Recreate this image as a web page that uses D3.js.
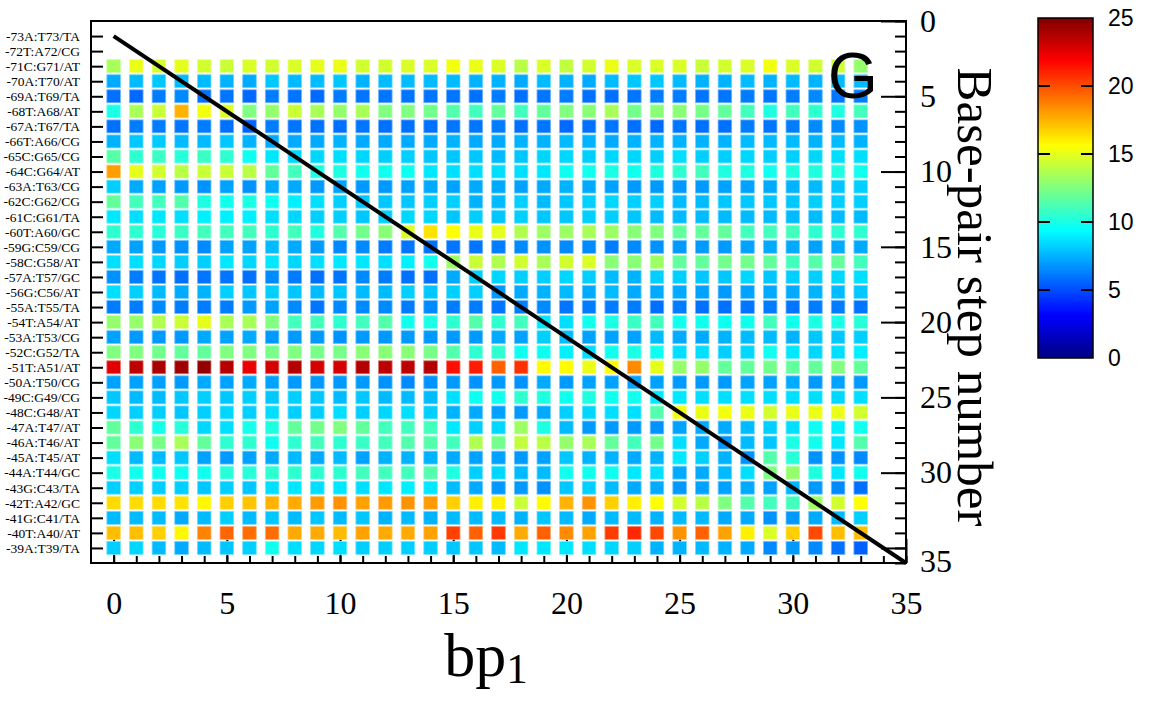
<!DOCTYPE html>
<html>
<head>
<meta charset="utf-8">
<script src="https://cdn.jsdelivr.net/npm/d3@7"></script>
<style>body{margin:0;background:#fff}</style>
</head>
<body>
<script>
// row names, base-pair step 1 .. 35 from top to bottom
const rowLabels = ['-73A:T73/TA','-72T:A72/CG','-71C:G71/AT','-70A:T70/AT','-69A:T69/TA','-68T:A68/AT','-67A:T67/TA',
  '-66T:A66/CG','-65C:G65/CG','-64C:G64/AT','-63A:T63/CG','-62C:G62/CG','-61C:G61/TA','-60T:A60/GC','-59G:C59/CG',
  '-58C:G58/AT','-57A:T57/GC','-56G:C56/AT','-55A:T55/TA','-54T:A54/AT','-53A:T53/CG','-52C:G52/TA','-51T:A51/AT',
  '-50A:T50/CG','-49C:G49/CG','-48C:G48/AT','-47A:T47/AT','-46A:T46/AT','-45A:T45/AT','-44A:T44/GC','-43G:C43/TA',
  '-42T:A42/GC','-41G:C41/TA','-40T:A40/AT','-39A:T39/TA'];

// bp1 columns 0..33, rows start at step 3 (-71) and end at step 35 (-39)
const bpColumns = d3.range(0, 34);
const firstStep = 3;
const cellValues = [
  [13.5,15.1,14.6,15.0,14.5,14.3,14.7,14.5,14.7,15.0,15.1,14.5,14.5,14.7,14.7,15.3,15.1,14.7,13.9,14.7,14.1,14.5,15.1,14.7,14.7,14.7,14.3,14.5,14.7,15.3,14.7,14.5,14.3,13.0],
  [7.3,7.7,8.0,7.7,7.7,7.5,7.3,8.0,7.7,7.7,8.0,7.5,7.7,7.7,7.7,7.7,7.5,7.5,7.3,7.7,7.5,7.3,7.7,8.0,8.0,7.7,7.5,7.5,7.7,7.5,7.7,7.5,7.7,7.7],
  [5.9,5.7,6.2,6.5,5.9,6.0,5.7,6.2,6.0,5.7,6.2,6.0,6.0,6.0,6.0,6.0,5.9,6.2,5.9,6.0,6.2,5.9,5.9,6.0,6.2,6.2,6.0,6.0,6.2,6.0,6.2,6.5,6.0,6.2],
  [10.0,13.5,14.3,17.5,15.3,14.7,12.5,13.0,14.3,13.5,13.0,13.5,12.5,12.5,12.2,11.4,11.0,11.8,11.0,11.8,12.5,12.7,13.5,12.2,12.7,12.7,12.3,11.8,11.0,10.1,11.0,10.5,10.1,11.0],
  [5.9,6.2,6.2,6.0,6.2,5.9,5.5,6.2,6.0,5.9,5.9,6.0,5.9,5.9,5.9,6.0,6.0,6.2,5.9,6.0,5.7,5.9,6.0,5.9,5.7,6.0,5.9,5.9,6.2,6.0,6.2,6.5,6.5,6.7],
  [7.5,8.0,8.1,7.7,7.7,8.0,7.5,7.3,7.3,7.3,7.5,7.3,7.3,7.3,7.3,7.5,7.3,7.3,7.5,7.5,7.7,7.5,7.3,7.5,7.5,7.5,7.5,7.5,7.7,7.7,7.7,7.5,7.7,7.5],
  [11.5,10.5,10.8,10.3,10.8,10.5,9.7,8.8,8.4,8.4,8.6,8.4,8.2,8.2,8.0,8.0,8.0,7.7,8.0,8.4,8.4,8.2,8.4,8.4,8.2,8.6,8.2,8.2,8.4,8.2,8.2,8.4,8.6,8.6],
  [18.0,15.0,14.5,13.9,14.3,14.3,13.9,11.8,11.0,10.1,10.1,9.8,9.8,9.7,8.8,8.6,8.6,8.6,8.6,8.8,9.7,9.8,10.0,9.8,10.1,10.5,11.0,10.1,10.1,9.8,10.1,10.1,10.1,9.8],
  [8.2,7.3,7.1,6.9,6.7,7.1,6.7,7.3,7.3,6.9,7.1,6.9,6.9,7.1,7.3,7.1,7.3,7.3,7.1,7.3,7.5,7.3,7.1,6.9,6.9,6.9,6.9,7.1,7.1,7.3,7.5,7.7,8.0,8.2],
  [11.8,11.0,11.0,11.4,10.1,9.8,10.0,9.7,9.0,8.6,8.2,8.0,8.0,8.0,8.2,8.2,7.5,7.7,8.2,7.7,8.0,8.2,8.4,8.2,8.2,7.7,7.7,8.0,8.0,8.0,8.0,8.2,8.2,8.2],
  [8.8,8.6,8.8,8.6,9.0,9.0,9.0,8.6,8.4,8.2,8.2,8.0,8.2,8.4,8.4,8.0,8.2,8.0,8.2,8.0,8.0,8.2,8.2,8.0,7.7,7.7,7.7,7.7,7.7,7.7,7.7,7.7,7.7,7.7],
  [10.5,10.5,10.3,10.8,11.0,11.0,11.0,10.5,11.0,10.1,11.4,12.2,12.7,14.7,16.3,15.6,15.1,15.0,13.7,13.2,13.2,13.5,13.2,12.7,12.5,11.8,11.8,11.8,11.0,11.0,11.0,10.5,10.5,10.5],
  [7.3,7.1,6.9,6.7,6.5,7.1,7.1,7.7,7.3,6.9,6.5,6.5,6.2,6.0,5.9,6.0,6.0,6.2,6.5,6.7,6.5,6.5,6.2,6.5,6.7,6.9,6.9,6.9,7.1,7.3,7.3,7.1,7.3,7.3],
  [8.6,8.6,8.4,8.2,8.2,8.8,8.4,8.8,8.4,8.6,8.8,8.8,8.6,9.0,9.8,13.2,14.3,13.7,14.5,13.5,14.5,14.7,12.7,12.7,13.2,11.8,11.8,12.2,12.2,11.8,11.0,11.4,11.8,11.0],
  [6.7,6.2,6.0,5.9,6.0,6.0,5.9,6.5,6.2,5.9,6.0,6.5,6.2,5.9,5.9,7.3,8.2,8.4,8.2,8.2,8.4,8.2,7.7,7.5,8.2,8.2,8.0,8.0,8.4,8.0,8.2,8.2,8.4,8.6],
  [8.6,8.2,7.7,7.3,7.5,8.2,8.0,8.2,8.0,7.7,8.0,7.7,7.7,8.2,8.0,8.2,8.2,6.9,7.3,7.5,7.7,7.3,7.7,7.3,7.3,7.3,7.1,6.9,7.1,7.3,7.3,7.5,7.7,8.0],
  [6.2,6.2,6.5,6.2,6.2,6.2,6.9,7.1,6.5,6.0,6.5,6.5,6.5,6.2,6.5,6.2,6.2,6.0,6.2,6.5,6.0,6.2,6.2,6.2,5.9,6.2,5.9,5.9,6.0,6.2,6.0,6.2,6.2,6.0],
  [13.0,13.0,13.7,14.3,15.0,13.5,13.5,12.5,11.0,11.0,10.5,11.0,11.4,9.8,10.0,10.5,11.4,10.5,11.0,8.8,8.6,9.8,10.0,10.8,11.0,9.8,9.8,9.7,9.8,11.0,9.8,10.0,10.0,10.3],
  [7.1,6.9,6.9,6.9,7.3,7.1,7.3,6.9,6.9,6.9,6.7,6.9,6.9,6.9,6.9,6.9,6.9,7.3,7.1,8.2,7.7,7.1,7.1,7.1,7.7,7.3,7.3,7.5,7.7,7.7,7.5,8.0,8.0,8.2],
  [12.5,12.5,12.2,11.8,11.8,12.5,12.5,12.3,12.5,12.3,12.3,12.7,12.7,12.7,12.3,11.4,10.5,10.5,9.7,9.7,9.0,8.6,9.8,10.0,9.7,8.6,8.6,8.2,8.4,9.8,8.8,8.4,8.6,9.0],
  [22.6,23.5,24.0,24.2,24.5,23.7,22.4,22.9,23.7,22.9,22.9,23.7,23.5,23.5,23.7,21.5,21.2,19.5,20.7,15.7,15.7,15.1,15.6,18.5,15.0,13.0,13.0,11.8,11.8,12.2,11.8,11.8,12.5,11.8],
  [7.1,7.1,7.1,6.9,7.3,7.1,7.3,7.1,6.9,6.9,6.9,6.9,6.7,6.5,6.7,6.9,6.7,6.9,6.7,7.3,6.9,7.1,7.1,7.1,7.1,6.9,6.9,6.9,7.1,7.1,7.3,6.9,7.1,6.9],
  [8.0,7.7,7.7,8.0,8.2,8.0,8.2,8.0,8.2,8.0,7.7,8.0,7.7,7.7,7.7,8.6,9.7,9.8,10.5,10.1,9.8,10.1,9.8,9.8,8.8,8.8,8.6,8.6,8.6,8.6,8.6,8.6,8.4,8.6],
  [8.4,8.2,8.2,8.0,8.2,8.4,8.2,8.6,8.2,8.2,8.6,8.2,8.4,8.6,8.2,7.5,7.3,7.1,6.9,7.3,8.2,8.4,8.6,8.6,11.4,15.3,15.1,15.3,15.1,14.5,15.1,15.1,15.1,14.5],
  [11.8,10.5,9.9,10.3,8.4,8.6,9.9,10.1,11.8,12.2,12.5,11.8,11.0,11.0,11.0,8.8,8.2,8.4,13.2,10.1,7.7,6.9,6.9,6.9,6.7,7.1,7.3,7.3,7.7,8.2,8.6,9.7,9.0,9.8],
  [11.8,12.7,12.3,13.5,11.8,10.5,10.5,9.7,10.5,11.0,10.5,10.8,11.0,11.4,11.4,11.0,13.7,12.2,14.1,13.9,13.0,13.5,11.8,11.0,12.2,8.6,7.3,6.7,7.7,8.0,10.0,9.8,8.8,11.4],
  [8.6,7.7,7.7,8.0,7.1,6.9,7.1,7.3,7.7,7.3,7.7,7.1,7.5,7.5,7.5,7.3,7.1,7.1,6.9,7.1,8.0,7.5,7.5,7.3,7.5,8.8,8.2,7.5,6.7,11.4,10.3,6.7,6.7,6.5],
  [10.0,9.8,9.8,9.7,9.8,10.3,10.3,10.5,10.5,10.5,10.5,11.0,11.0,11.0,11.4,10.1,8.2,8.4,7.7,7.7,9.8,9.8,9.7,8.8,8.6,7.3,7.3,7.7,8.6,12.5,13.0,10.1,8.8,9.8],
  [8.2,8.2,8.2,8.2,8.0,8.2,8.0,8.6,8.8,8.6,8.8,8.6,8.8,9.0,8.8,7.7,7.3,6.9,6.9,6.7,8.0,8.2,7.7,7.3,7.3,6.9,7.1,7.1,7.3,7.1,7.5,6.9,6.5,5.9],
  [16.5,16.5,16.5,16.3,15.8,16.8,17.1,17.5,17.7,18.1,18.3,17.9,18.1,18.3,18.1,16.8,16.0,16.0,14.3,15.7,17.5,18.3,16.8,16.0,15.6,14.5,13.9,12.5,11.4,11.0,11.0,13.2,14.5,15.6],
  [7.7,7.7,7.7,7.3,7.7,8.2,7.7,8.0,7.7,8.0,7.7,8.0,7.5,7.7,7.5,7.7,7.7,7.7,7.5,8.0,7.7,7.3,7.7,7.7,7.5,7.7,7.7,7.3,7.3,6.7,6.9,7.3,7.7,8.2],
  [17.2,17.2,16.8,15.8,18.7,19.4,19.2,19.2,17.7,17.7,17.3,17.9,17.7,17.7,17.9,20.3,19.5,20.5,17.7,19.5,18.5,17.9,20.4,20.9,20.1,18.3,19.5,17.9,16.0,14.7,16.8,20.1,17.2,17.2],
  [8.2,8.4,7.7,7.3,7.7,8.0,8.2,9.8,8.6,8.4,8.6,8.2,8.2,8.2,8.2,8.0,8.0,7.7,8.8,8.8,8.8,8.6,8.4,8.2,7.5,7.5,7.7,7.5,7.3,6.5,6.9,6.5,5.9,5.5]
];

const xTickValues = [0, 5, 10, 15, 20, 25, 30, 35];
const yTickValues = [0, 5, 10, 15, 20, 25, 30, 35];
const barTickValues = [0, 5, 10, 15, 20, 25];
// jet colour map over 0..25
const jetStops = [0, 3.125, 9.375, 15.625, 21.875, 25];
const jetColors = ['#000080', '#0000ff', '#00ffff', '#ffff00', '#ff0000', '#800000'];

let width = 1155, height = 704;
let plot = {left: 91, right: 906, top: 21, bottom: 563};
let serif = 'Liberation Serif', sans = 'Liberation Sans';

let svg = d3.select('body').append('svg').attr('width', width).attr('height', height)
  .style('background', '#fff');

let xScale = d3.scaleLinear().domain([-1, 35]).range([plot.left, plot.right]);
let yScale = d3.scaleLinear().domain([0, 36]).range([plot.top, plot.bottom]);
let color = d3.scaleLinear().domain(jetStops).range(jetColors).clamp(true);

function styleAxis(g, size) {
  g.select('.domain').remove();
  g.selectAll('line').attr('stroke', '#000').attr('stroke-width', 2);
  g.selectAll('text').attr('font-family', serif).attr('font-size', size).attr('fill', '#000');
}

// long bottom ticks sit under the cells
svg.append('g').attr('transform', `translate(0,${plot.bottom})`)
  .call(d3.axisBottom(xScale).tickValues(xTickValues).tickSizeInner(-24).tickSizeOuter(0).tickPadding(28))
  .call(g => styleAxis(g, 32));
svg.append('g').attr('transform', `translate(0,${plot.bottom})`)
  .call(d3.axisBottom(xScale).tickValues(d3.range(0, 36)).tickSizeInner(-7).tickSizeOuter(0).tickFormat(''))
  .call(g => styleAxis(g, 10));

// cells
let cells = [];
cellValues.forEach((row, i) => row.forEach((v, c) => cells.push({col: bpColumns[c], step: firstStep + i, v: v})));
let cw = (xScale(1) - xScale(0)) * 0.6, ch = (yScale(1) - yScale(0)) * 0.86;
svg.append('g').selectAll('rect').data(cells).enter().append('rect')
  .attr('x', d => xScale(d.col) - cw / 2).attr('y', d => yScale(d.step) - ch / 2)
  .attr('width', cw).attr('height', ch)
  .attr('fill', d => color(d.v))
  .attr('stroke', d => d3.interpolateRgb(color(d.v), '#fff')(0.45)).attr('stroke-width', 0.8);

// left axis with base-pair names
svg.append('g').attr('transform', `translate(${plot.left},0)`)
  .call(d3.axisLeft(yScale).tickValues(d3.range(1, 36)).tickSizeInner(-12).tickSizeOuter(0).tickPadding(11)
    .tickFormat(d => rowLabels[d - 1]))
  .call(g => styleAxis(g, 13.5));

// right axis
svg.append('g').attr('transform', `translate(${plot.right},0)`)
  .call(d3.axisRight(yScale).tickValues(d3.range(0, 37)).tickSizeInner(-11).tickSizeOuter(0).tickFormat(''))
  .call(g => styleAxis(g, 10));
svg.append('g').attr('transform', `translate(${plot.right},0)`)
  .call(d3.axisRight(yScale).tickValues(yTickValues).tickSizeInner(-25).tickSizeOuter(0).tickPadding(14))
  .call(g => styleAxis(g, 32))
  .call(g => g.selectAll('.tick').filter(d => d === 35).select('text').attr('dy', '0.75em'));

// frame
svg.append('rect').attr('x', plot.left).attr('y', plot.top)
  .attr('width', plot.right - plot.left).attr('height', plot.bottom - plot.top)
  .attr('fill', 'none').attr('stroke', '#000').attr('stroke-width', 2);

// diagonal
svg.append('line')
  .attr('x1', xScale(0)).attr('y1', yScale(1)).attr('x2', xScale(35)).attr('y2', yScale(36))
  .attr('stroke', '#000').attr('stroke-width', 4);

svg.append('text').attr('x', 828).attr('y', 98).text('G')
  .attr('font-family', sans).attr('font-size', 64).attr('fill', '#000');

// axis titles
let xt = svg.append('text').attr('x', 486).attr('y', 676).attr('text-anchor', 'middle')
  .attr('font-family', serif).attr('font-size', 62).attr('fill', '#000');
xt.append('tspan').text('bp');
xt.append('tspan').text('1').attr('font-size', 43).attr('dy', 7);

svg.append('text').attr('transform', 'translate(958,297) rotate(90)').attr('text-anchor', 'middle')
  .attr('font-family', serif).attr('font-size', 51).attr('fill', '#000').text('Base-pair step number');

// colour bar
let bar = {x: 1038, w: 55, top: 18, bottom: 358};
let barScale = d3.scaleLinear().domain([0, 25]).range([bar.bottom, bar.top]);
let grad = svg.append('defs').append('linearGradient').attr('id', 'jet')
  .attr('x1', 0).attr('y1', 1).attr('x2', 0).attr('y2', 0);
grad.selectAll('stop').data(jetStops).enter().append('stop')
  .attr('offset', d => d / 25).attr('stop-color', d => color(d));
svg.append('rect').attr('x', bar.x).attr('y', bar.top).attr('width', bar.w).attr('height', bar.bottom - bar.top)
  .attr('fill', 'url(#jet)').attr('stroke', '#000').attr('stroke-width', 1.5);
let inner = barTickValues.filter(d => d > 0 && d < 25);
svg.append('g').selectAll('line').data(inner).enter().append('line')
  .attr('x1', bar.x).attr('x2', bar.x + 12).attr('y1', d => barScale(d)).attr('y2', d => barScale(d))
  .attr('stroke', '#000').attr('stroke-width', 2);
svg.append('g').selectAll('line').data(inner).enter().append('line')
  .attr('x1', bar.x + bar.w - 12).attr('x2', bar.x + bar.w).attr('y1', d => barScale(d)).attr('y2', d => barScale(d))
  .attr('stroke', '#000').attr('stroke-width', 2);
svg.append('g').attr('transform', `translate(${bar.x + bar.w},0)`)
  .call(d3.axisRight(barScale).tickValues(barTickValues).tickSize(0).tickPadding(15))
  .call(g => g.select('.domain').remove())
  .call(g => g.selectAll('text').attr('font-family', sans).attr('font-size', 23).attr('fill', '#000'));
</script>
</body>
</html>
